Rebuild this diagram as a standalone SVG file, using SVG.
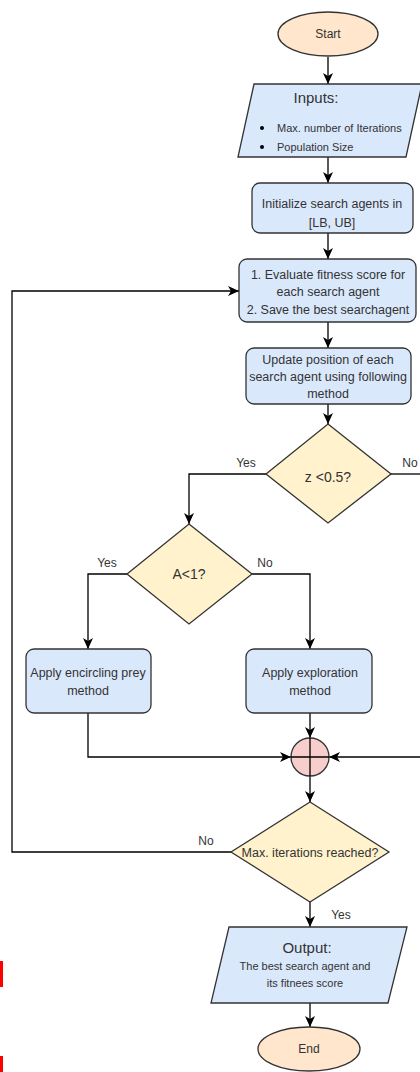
<svg xmlns="http://www.w3.org/2000/svg" width="420" height="1072" viewBox="0 0 420 1072">
<defs>
<marker id="arr" markerUnits="userSpaceOnUse" markerWidth="12" markerHeight="10" refX="11" refY="5" orient="auto">
<path d="M0,0 L11,5 L0,10 L3,5 z" fill="#000"/>
</marker>
<style>
.box{fill:#dae8fc;stroke:#333;stroke-width:1.3}
.term{fill:#ffe6cc;stroke:#333;stroke-width:1.3}
.dec{fill:#fff2cc;stroke:#333;stroke-width:1.3}
.junc{fill:#f8cecc;stroke:#333;stroke-width:1.3}
.ln{fill:none;stroke:#000;stroke-width:1.3}
.ar{fill:none;stroke:#000;stroke-width:1.3;marker-end:url(#arr)}
text{font-family:"Liberation Sans",Arial,sans-serif;fill:#333;text-anchor:middle}
.t12{font-size:12.5px}
.t11{font-size:11px}
.t15{font-size:15px}
.t14{font-size:14px}
.lab{font-size:12px}
</style>
</defs>
<rect width="420" height="1072" fill="#fff"/>
<g id="connectors">
<path class="ar" d="M328,57 V84"/>
<path class="ar" d="M328,157 V183"/>
<path class="ar" d="M328,233 V259"/>
<path class="ar" d="M328,322 V348"/>
<path class="ar" d="M328,404 V424"/>
<path class="ar" d="M266,474 H189 V524"/>
<path class="ln" d="M391,474 H420"/>
<path class="ar" d="M127,574 H88 V649"/>
<path class="ar" d="M252,574 H310 V649"/>
<path class="ar" d="M310,713 V738"/>
<path class="ar" d="M88,713 V757 H291"/>
<path class="ar" d="M420,757 H329"/>
<path class="ar" d="M310,776 V802"/>
<path class="ar" d="M231,852 H12 V291 H239"/>
<path class="ar" d="M310,902 V927"/>
<path class="ar" d="M310,1003 V1027"/>
<text class="lab" x="246" y="467">Yes</text>
<text class="lab" x="410" y="467">No</text>
<text class="lab" x="107" y="567">Yes</text>
<text class="lab" x="265" y="567">No</text>
<text class="lab" x="206" y="845">No</text>
<text class="lab" x="341" y="919">Yes</text>
</g>
<g id="start">
<ellipse class="term" cx="328" cy="34" rx="50" ry="22"/>
<text x="328" y="38" style="font-size:12px">Start</text>
</g>
<g id="inputs">
<polygon class="box" points="254,84 422,84 406,157 238,157"/>
<text class="t15" x="316" y="103">Inputs:</text>
<circle cx="262" cy="128" r="2" fill="#000"/>
<circle cx="262" cy="147" r="2" fill="#000"/>
<text class="t11" x="277" y="132" style="text-anchor:start">Max. number of Iterations</text>
<text class="t11" x="277" y="151" style="text-anchor:start">Population Size</text>
</g>
<g id="init">
<rect class="box" x="252" y="183" width="161" height="50" rx="8"/>
<text class="t12" x="332" y="208">Initialize search agents in</text>
<text class="t12" x="332" y="227">[LB, UB]</text>
</g>
<g id="evaluate">
<rect class="box" x="239" y="259" width="177" height="63" rx="8"/>
<text class="t12" x="328" y="279">1. Evaluate fitness score for</text>
<text class="t12" x="328" y="296">each search agent</text>
<text class="t12" x="328" y="314">2. Save the best searchagent</text>
</g>
<g id="update">
<rect class="box" x="246" y="348" width="165" height="56" rx="8"/>
<text class="t12" x="328" y="364">Update position of each</text>
<text class="t12" x="328" y="381">search agent using following</text>
<text class="t12" x="328" y="398">method</text>
</g>
<g id="zdecision">
<polygon class="dec" points="328,424 391,474 328,523 266,474"/>
<text class="t14" x="328" y="482">z &lt;0.5?</text>
</g>
<g id="adecision">
<polygon class="dec" points="189,524 252,574 189,624 127,574"/>
<text class="t14" x="189" y="579">A&lt;1?</text>
</g>
<g id="encircling">
<rect class="box" x="26" y="649" width="125" height="64" rx="8"/>
<text class="t12" x="88" y="677">Apply encircling prey</text>
<text class="t12" x="88" y="695">method</text>
</g>
<g id="exploration">
<rect class="box" x="246" y="649" width="126" height="64" rx="8"/>
<text class="t12" x="310" y="677">Apply exploration</text>
<text class="t12" x="310" y="695">method</text>
</g>
<g id="junction">
<circle class="junc" cx="310" cy="757" r="19"/>
<path class="ln" d="M291,757 H329 M310,738 V776"/>
</g>
<g id="maxdecision">
<polygon class="dec" points="310,802 389,852 310,902 231,852"/>
<text x="310" y="857" style="font-size:12.5px">Max. iterations reached?</text>
</g>
<g id="output">
<polygon class="box" points="229,927 407,927 388,1003 211,1003"/>
<text class="t15" x="307" y="953">Output:</text>
<text class="t11" x="305" y="970">The best search agent and</text>
<text class="t11" x="305" y="987">its fitnees score</text>
</g>
<g id="end">
<ellipse class="term" cx="309" cy="1049" rx="51" ry="22"/>
<text x="309" y="1053" style="font-size:12px">End</text>
</g>
<rect x="0" y="961" width="3" height="26" fill="#f00"/>
<rect x="0" y="1056" width="3" height="16" fill="#f00"/>
</svg>
